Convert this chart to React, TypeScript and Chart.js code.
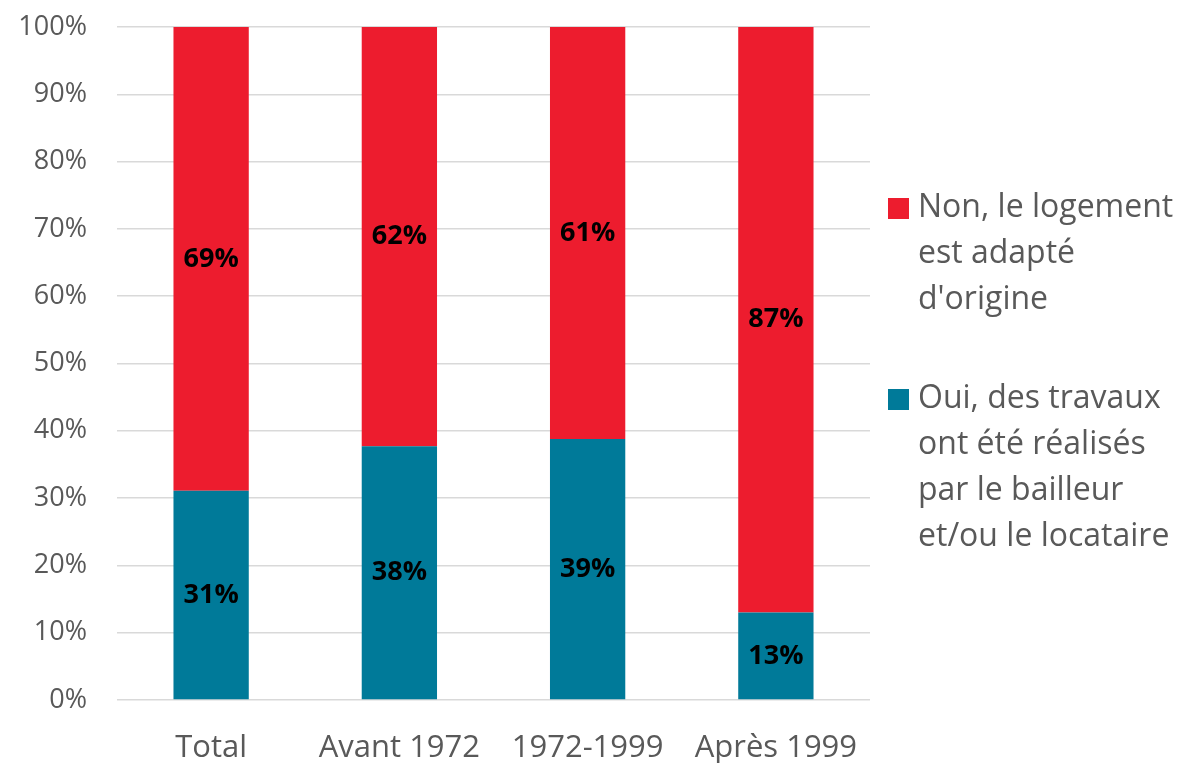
import React, { useEffect, useRef } from "react";
import { Chart, registerables } from "chart.js";

Chart.register(...registerables);

const categories = ["Total", "Avant 1972", "1972-1999", "Après 1999"];
const ouiValues = [31.1, 37.7, 38.8, 13.0];
const nonValues = [68.9, 62.3, 61.2, 87.0];
const ouiLabels = ["31%", "38%", "39%", "13%"];
const nonLabels = ["69%", "62%", "61%", "87%"];
const legendNon = ["Non, le logement", "est adapté", "d'origine"];
const legendOui = ["Oui, des travaux", "ont été réalisés", "par le bailleur", "et/ou le locataire"];

const RED = "#ED1C2E";
const TEAL = "#007A99";
const TEXT = "#595959";
const FONT = "'Open Sans', sans-serif";

const barLabelsPlugin = {
  id: "barLabels",
  afterDatasetsDraw(chart: any) {
    const ctx = chart.ctx;
    const all = [ouiLabels, nonLabels];
    ctx.save();
    ctx.font = `bold 27px ${FONT}`;
    ctx.fillStyle = "#000000";
    ctx.textAlign = "center";
    ctx.textBaseline = "middle";
    chart.data.datasets.forEach((_d: any, di: number) => {
      const meta = chart.getDatasetMeta(di);
      meta.data.forEach((el: any, i: number) => {
        const p = el.getProps(["x", "y", "base"], true);
        ctx.fillText(all[di][i], p.x, (p.y + p.base) / 2);
      });
    });
    ctx.restore();
  },
};

const sideLegendPlugin = {
  id: "sideLegend",
  afterDraw(chart: any) {
    const ctx = chart.ctx;
    const area = chart.chartArea;
    const sx = area.right + 18;
    const tx = area.right + 48;
    const lh = 46;
    const items = [
      { color: RED, lines: legendNon, top: 208 },
      { color: TEAL, lines: legendOui, top: 399 },
    ];
    ctx.save();
    ctx.font = `32px ${FONT}`;
    ctx.fillStyle = TEXT;
    ctx.textAlign = "left";
    ctx.textBaseline = "middle";
    items.forEach((it) => {
      ctx.fillStyle = it.color;
      ctx.fillRect(sx, it.top - 10, 21, 21);
      ctx.fillStyle = TEXT;
      it.lines.forEach((ln, k) => {
        ctx.fillText(ln, tx, it.top + k * lh);
      });
    });
    ctx.restore();
  },
};

export default function App() {
  const ref = useRef<HTMLCanvasElement | null>(null);
  useEffect(() => {
    if (!ref.current) return;
    const chart = new Chart(ref.current, {
      type: "bar",
      data: {
        labels: categories,
        datasets: [
          { label: "Oui", data: ouiValues, backgroundColor: TEAL, barPercentage: 0.4, categoryPercentage: 1 },
          { label: "Non", data: nonValues, backgroundColor: RED, barPercentage: 0.4, categoryPercentage: 1 },
        ],
      },
      options: {
        animation: false,
        responsive: false,
        maintainAspectRatio: false,
        layout: { padding: { top: 27, right: 316, left: 0, bottom: 0 } },
        plugins: {
          legend: { display: false },
          tooltip: { enabled: false },
        },
        scales: {
          x: {
            stacked: true,
            grid: { display: false, drawTicks: false },
            border: { display: false },
            ticks: { color: TEXT, font: { family: FONT, size: 31 }, padding: 30, maxRotation: 0 },
            afterFit: (s: any) => { s.height = 63; s.paddingLeft = 0; s.paddingRight = 0; },
          },
          y: {
            stacked: true,
            min: 0,
            max: 100,
            grid: { color: "#D9D9D9", lineWidth: 1.5, drawTicks: false },
            border: { display: false },
            ticks: {
              stepSize: 10,
              color: TEXT,
              font: { family: FONT, size: 27 },
              padding: 30,
              callback: (v: any) => `${v}%`,
            },
            afterFit: (s: any) => { s.width = 117; s.paddingTop = 0; s.paddingBottom = 0; },
          },
        },
      },
      plugins: [barLabelsPlugin, sideLegendPlugin],
    });
    return () => chart.destroy();
  }, []);
  return (
    <div style={{ position: "fixed", left: 0, top: 0, width: 1186, height: 763, background: "#fff" }}>
      <canvas ref={ref} width={1186} height={763} style={{ width: 1186, height: 763 }} />
    </div>
  );
}
